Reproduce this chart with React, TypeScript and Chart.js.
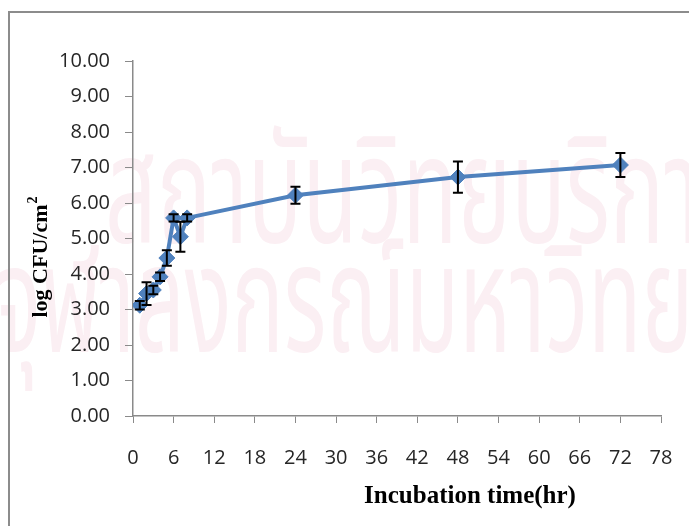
import React, { useEffect, useRef } from "react";
import { Chart, registerables } from "chart.js";

Chart.register(...registerables);

// ---- data ----
const hours: number[] = [1, 2, 3, 4, 5, 6, 7, 8, 24, 48, 72];
const logCfu: number[] = [3.12, 3.45, 3.55, 3.92, 4.45, 5.58, 5.05, 5.58, 6.22, 6.73, 7.07];
const errSd: number[] = [0.12, 0.32, 0.12, 0.12, 0.22, 0.1, 0.42, 0.1, 0.24, 0.44, 0.34];

const xMin = 0;
const xMax = 78;
const xStep = 6;
const yMin = 0;
const yMax = 10;
const yStep = 1;

const xTitle = "Incubation time(hr)";
const yTitle = "log CFU/cm";
const yTitleSup = "2";
const watermarkLine1 = "สถาบันวิทยบริการ";
const watermarkLine2 = "จุฬาลงกรณ์มหาวิทยาลัย";

const BLUE = "#4F81BD";
const AXIS = "#8a8a8a";

const decorPlugin = {
  id: "decor",
  beforeDraw(chart: any) {
    const { ctx, width, height } = chart;
    ctx.save();
    ctx.fillStyle = "#ffffff";
    ctx.fillRect(0, 0, width, height);
    // watermark
    ctx.fillStyle = "#fbeff3";
    ctx.textBaseline = "alphabetic";
    ctx.textAlign = "left";
    ctx.font = '150px "Noto Sans Thai", "Loma", "Garuda", "Tahoma", sans-serif';
    const lines: [string, number, number, number][] = [
      [watermarkLine1, 105, 243, 640],
      [watermarkLine2, -5, 352, 835],
    ];
    for (const [txt, x, y, w] of lines) {
      const m = ctx.measureText(txt).width || 1;
      ctx.save();
      ctx.translate(x, y);
      ctx.scale(w / m, 1);
      ctx.fillText(txt, 0, 0);
      ctx.restore();
    }
    // frame
    ctx.strokeStyle = "#8c8c8c";
    ctx.lineWidth = 2;
    ctx.beginPath();
    ctx.moveTo(9, height + 5);
    ctx.lineTo(9, 12);
    ctx.lineTo(width + 5, 12);
    ctx.stroke();
    ctx.restore();
  },
  afterDatasetsDraw(chart: any) {
    const { ctx } = chart;
    const xs = chart.scales.x;
    const ys = chart.scales.y;
    ctx.save();
    ctx.strokeStyle = "#000000";
    ctx.lineWidth = 2;
    for (let i = 0; i < hours.length; i++) {
      const px = xs.getPixelForValue(hours[i]);
      const top = ys.getPixelForValue(logCfu[i] + errSd[i]);
      const bot = ys.getPixelForValue(logCfu[i] - errSd[i]);
      ctx.beginPath();
      ctx.moveTo(px, top);
      ctx.lineTo(px, bot);
      ctx.moveTo(px - 5, top);
      ctx.lineTo(px + 5, top);
      ctx.moveTo(px - 5, bot);
      ctx.lineTo(px + 5, bot);
      ctx.stroke();
    }
    ctx.restore();
  },
  afterDraw(chart: any) {
    const { ctx } = chart;
    ctx.save();
    ctx.fillStyle = "#000000";
    // x title
    ctx.font = 'bold 25px "Liberation Serif", "Times New Roman", serif';
    ctx.textAlign = "center";
    ctx.textBaseline = "middle";
    ctx.fillText(xTitle, 470, 497);
    // y title rotated
    ctx.translate(40, 257);
    ctx.rotate(-Math.PI / 2);
    ctx.font = 'bold 22px "Liberation Serif", "Times New Roman", serif';
    const mainW = ctx.measureText(yTitle).width;
    ctx.font = 'bold 14px "Liberation Serif", "Times New Roman", serif';
    const supW = ctx.measureText(yTitleSup).width;
    const total = mainW + supW + 1;
    ctx.textAlign = "left";
    ctx.textBaseline = "alphabetic";
    ctx.font = 'bold 22px "Liberation Serif", "Times New Roman", serif';
    ctx.fillText(yTitle, -total / 2, 7);
    ctx.font = 'bold 14px "Liberation Serif", "Times New Roman", serif';
    ctx.fillText(yTitleSup, -total / 2 + mainW + 1, -3);
    ctx.restore();
  },
};

export default function App() {
  const ref = useRef<HTMLCanvasElement | null>(null);
  useEffect(() => {
    if (!ref.current) return;
    const chart = new Chart(ref.current, {
      type: "line",
      data: {
        datasets: [
          {
            data: hours.map((h, i) => ({ x: h, y: logCfu[i] })),
            borderColor: BLUE,
            backgroundColor: BLUE,
            borderWidth: 4,
            pointStyle: "rectRot",
            pointRadius: 8,
            pointBackgroundColor: BLUE,
            pointBorderColor: BLUE,
            pointBorderWidth: 1,
            tension: 0,
          },
        ],
      },
      options: {
        responsive: false,
        animation: false,
        events: [],
        layout: { padding: { left: 0, top: 61, right: 28, bottom: 0 } },
        plugins: {
          legend: { display: false },
          tooltip: { enabled: false },
          title: { display: false },
        },
        scales: {
          x: {
            type: "linear",
            min: xMin,
            max: xMax,
            afterFit(scale: any) {
              scale.height = 110;
              scale.paddingLeft = 0;
              scale.paddingRight = 0;
            },
            ticks: {
              stepSize: xStep,
              padding: 23,
              color: "#262626",
              font: { family: '"Open Sans", "Liberation Sans", sans-serif', size: 20 },
              maxRotation: 0,
              autoSkip: false,
            },
            grid: {
              display: true,
              drawOnChartArea: false,
              drawTicks: true,
              tickLength: 7,
              color: AXIS,
            },
            border: { display: true, color: AXIS, width: 1.5 },
          },
          y: {
            type: "linear",
            min: yMin,
            max: yMax,
            afterFit(scale: any) {
              scale.width = 133;
              scale.paddingTop = 0;
              scale.paddingBottom = 0;
            },
            ticks: {
              stepSize: yStep,
              padding: 15,
              color: "#262626",
              font: { family: '"Open Sans", "Liberation Sans", sans-serif', size: 20 },
              callback: (v: any) => Number(v).toFixed(2),
            },
            grid: {
              display: true,
              drawOnChartArea: false,
              drawTicks: true,
              tickLength: 8,
              color: AXIS,
            },
            border: { display: true, color: AXIS, width: 1.5 },
          },
        },
      },
      plugins: [decorPlugin],
    });
    return () => chart.destroy();
  }, []);
  return (
    <div style={{ position: "absolute", left: 0, top: 0, width: 689, height: 526 }}>
      <canvas ref={ref} width={689} height={526} style={{ display: "block" }} />
    </div>
  );
}
